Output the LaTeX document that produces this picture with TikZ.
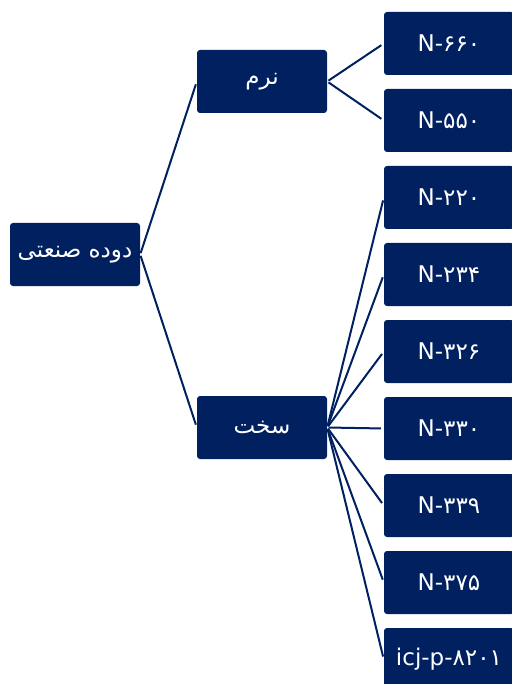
\documentclass[tikz,border=0pt]{standalone}
\usepackage{fontspec}
\setmainfont{DejaVu Sans}
\newfontfamily\arabicfont[Script=Arabic]{DejaVu Sans}
\TeXXeTstate=1
\definecolor{navy}{RGB}{0,32,96}
\tikzset{
  box/.style={fill=navy, rounded corners=3pt, minimum width=130pt, minimum height=63pt,
    inner sep=0pt, text=white, font=\fontsize{23}{26}\selectfont},
  link/.style={draw=navy, line width=2pt, shorten <=1.5pt, shorten >=3pt}
}
\begin{document}
\begin{tikzpicture}[x=1pt,y=-1pt]
  \def\Xa{75};  % root
  \def\Xb{262}; % groups
  \def\Xc{449}; % grades
  \useasboundingbox (0,0) rectangle (511,684);

        % root
        \node[box] (root) at (\Xa, 254.5) {\arabicfont\beginR دوده صنعتی\endR};

        % groups
        \node[box] (soft) at (\Xb, 81.5) {\arabicfont\beginR نرم\endR};
        \node[box] (hard) at (\Xb, 427.5) {\arabicfont\beginR سخت\endR};

        % soft grades
        \node[box] (n660) at (\Xc, 43.5) {N-۶۶۰};
        \node[box] (n550) at (\Xc, 120.5) {N-۵۵۰};

        % hard grades
        \node[box] (n220) at (\Xc, 197.5) {N-۲۲۰};
        \node[box] (n234) at (\Xc, 274.5) {N-۲۳۴};
        \node[box] (n326) at (\Xc, 351.5) {N-۳۲۶};
        \node[box] (n330) at (\Xc, 428.5) {N-۳۳۰};
        \node[box] (n339) at (\Xc, 505.5) {N-۳۳۹};
        \node[box] (n375) at (\Xc, 582.5) {N-۳۷۵};
        \node[box] (icj) at (\Xc, 659.5) {icj-p-۸۲۰۱};

        % links
        \draw[link] (root.east) -- (soft.west);
        \draw[link] (root.east) -- (hard.west);
        \draw[link] (soft.east) -- (n660.west);
        \draw[link] (soft.east) -- (n550.west);
        \draw[link] (hard.east) -- (n220.west);
        \draw[link] (hard.east) -- (n234.west);
        \draw[link] (hard.east) -- (n326.west);
        \draw[link] (hard.east) -- (n330.west);
        \draw[link] (hard.east) -- (n339.west);
        \draw[link] (hard.east) -- (n375.west);
        \draw[link] (hard.east) -- (icj.west);
\end{tikzpicture}
\end{document}
